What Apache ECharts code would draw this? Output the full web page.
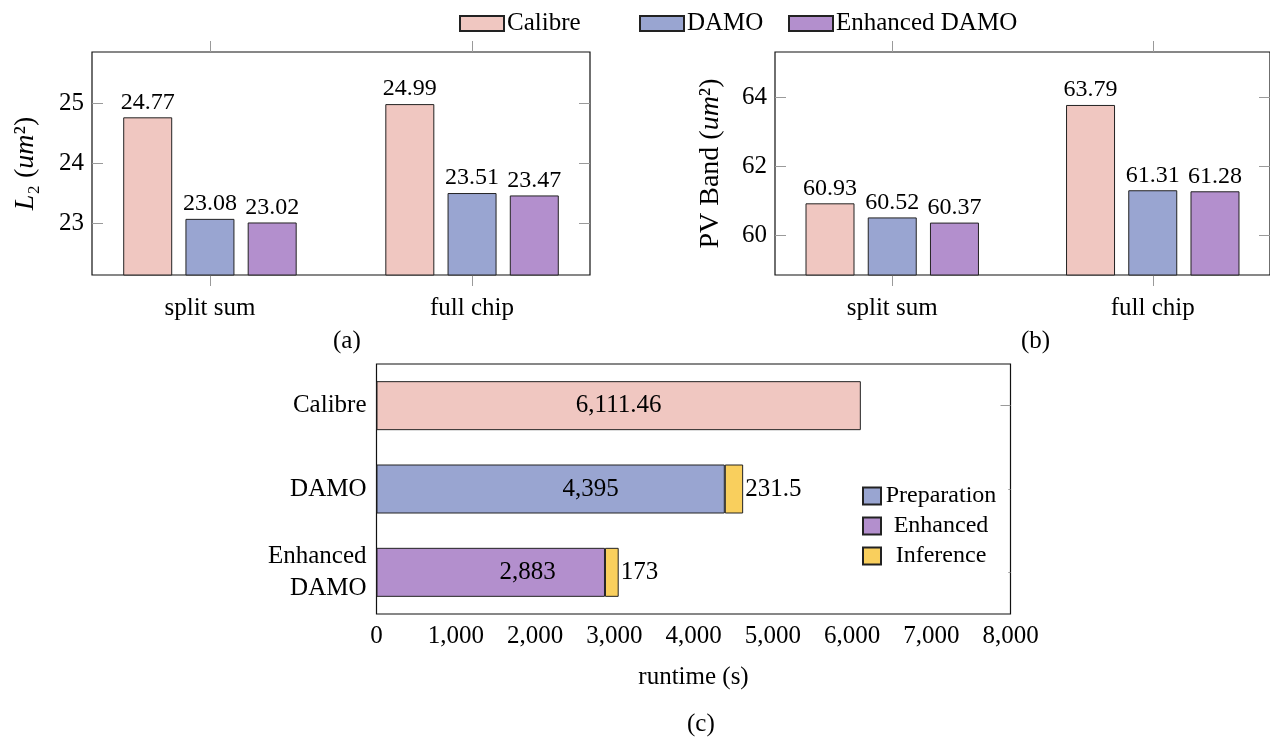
<!DOCTYPE html>
<html>
<head>
<meta charset="utf-8">
<script src="https://cdn.jsdelivr.net/npm/echarts@6/dist/echarts.min.js"></script>
<style>
  html, body { margin: 0; padding: 0; background: #fff; }
  #main { width: 1270px; height: 741px; }
</style>
</head>
<body>
<div id="main"></div>
<script>
// data
var groups = ['split sum', 'full chip'];
var l2Calibre = [24.77, 24.99];
var l2Damo = [23.08, 23.51];
var l2Enhanced = [23.02, 23.47];
var pvCalibre = [60.93, 63.79];
var pvDamo = [60.52, 61.31];
var pvEnhanced = [60.37, 61.28];
var l2Ticks = [23, 24, 25];
var pvTicks = [60, 62, 64];
var groupTicks = [0, 1];

var runtimeCats = ['Calibre', 'DAMO', 'Enhanced\nDAMO'];
var calibreRuntime = [6111.46, null, null];
var preparation = [null, 4395, null];
var enhancedRuntime = [null, null, 2883];
var inference = [null, 231.5, 173];

var FONT = 'Liberation Serif';
var FS = 25;
var PINK = '#F0C7C1', BLUE = '#99A5D1', PURPLE = '#B38FCD', YELLOW = '#F9CF5D';
var TICK = '#9a9a9a';

var chartDom = document.getElementById('main');
var myChart = echarts.init(chartDom, null, { renderer: 'canvas', devicePixelRatio: 1 });

function pairs(arr) {
	return arr.map(function (v, i) { return [i, v]; });
}
function fmt(v) {
	return Number(v).toLocaleString('en-US', { maximumFractionDigits: 2 });
}

function groupX(gridIndex, pos) {
	return {
		gridIndex: gridIndex,
		type: 'value',
		position: pos,
		min: -0.45,
		max: 1.45,
		axisLine: { show: false, onZero: false },
		splitLine: { show: false },
		axisTick: { show: true, inside: false, length: 11, customValues: groupTicks, lineStyle: { color: TICK } },
		axisLabel: {
			show: pos === 'bottom',
			customValues: groupTicks,
			formatter: function (v) { return groups[Math.round(v)]; },
			margin: 21,
			fontFamily: FONT, fontSize: FS, color: '#000'
		}
	};
}
function valueY(gridIndex, pos, min, max, ticks, name, nameGap) {
	return {
		gridIndex: gridIndex,
		type: 'value',
		position: pos,
		min: min,
		max: max,
		name: pos === 'left' ? name : '',
		nameLocation: 'middle',
		nameRotate: 90,
		nameGap: nameGap,
		nameTextStyle: {
			fontFamily: FONT, fontSize: 28, color: '#000',
			rich: { i: { fontFamily: FONT, fontSize: 28, fontStyle: 'italic', color: '#000' } }
		},
		axisLine: { show: false, onZero: false },
		splitLine: { show: false },
		axisTick: { show: true, inside: true, length: 11, customValues: ticks, lineStyle: { color: TICK } },
		axisLabel: {
			show: pos === 'left',
			customValues: ticks,
			margin: 8,
			fontFamily: FONT, fontSize: FS, color: '#000'
		}
	};
}
function barSeries(name, color, data, xi, yi) {
	return {
		name: name,
		type: 'bar',
		xAxisIndex: xi,
		yAxisIndex: yi,
		data: pairs(data),
		barWidth: 49,
		barGap: '27%',
		itemStyle: { color: color, borderColor: '#222', borderWidth: 1 },
		label: {
			show: true,
			position: 'top',
			distance: 3,
			fontFamily: FONT, fontSize: 24, color: '#000',
			formatter: function (p) { return p.value[1].toFixed(2); }
		}
	};
}
function topLegend(name, left) {
	return {
		data: [name], left: left, top: 6, icon: 'rect',
		itemWidth: 44, itemHeight: 15, itemGap: 0,
		textStyle: { fontFamily: FONT, fontSize: FS, color: '#000', padding: [0, 0, 0, -2] }
	};
}

var option = {
	backgroundColor: '#fff',
	animation: false,
	textStyle: { fontFamily: FONT, color: '#000' },
	legend: [
		topLegend('Calibre', 454),
		topLegend('DAMO', 634),
		topLegend('Enhanced DAMO', 783),
		{
			data: ['Preparation', 'Enhanced', 'Inference'],
			orient: 'vertical',
			icon: 'rect',
			left: 854,
			top: 479,
			padding: [5, 12, 12, 8],
			backgroundColor: '#fff',
			itemWidth: 18,
			itemHeight: 17,
			itemGap: 6,
			formatter: function (n) { return '{c|' + n + '}'; },
			textStyle: {
				fontFamily: FONT, fontSize: FS, color: '#000',
				rich: { c: { width: 110, align: 'center', lineHeight: 26, fontFamily: FONT, fontSize: 24 } }
			}
		}
	],
	grid: [
		{ left: 92, top: 52, width: 498, height: 223, show: true, borderColor: '#111', borderWidth: 1.2, backgroundColor: 'transparent' },
		{ left: 775, top: 52, width: 498, height: 223, show: true, borderColor: '#111', borderWidth: 1.2, backgroundColor: 'transparent' },
		{ left: 376.5, top: 364, width: 634, height: 250, show: true, borderColor: '#111', borderWidth: 1.2, backgroundColor: 'transparent' }
	],
	xAxis: [
		groupX(0, 'bottom'),
		groupX(0, 'top'),
		groupX(1, 'bottom'),
		groupX(1, 'top'),
		{
			gridIndex: 2, type: 'value', position: 'bottom', min: 0, max: 8000, interval: 1000,
			name: 'runtime (s)', nameLocation: 'middle', nameGap: 51,
			nameTextStyle: { fontFamily: FONT, fontSize: FS, color: '#000' },
			axisLine: { show: false, onZero: false }, splitLine: { show: false },
			axisTick: { inside: true, length: 10, lineStyle: { color: TICK } },
			axisLabel: { margin: 10, fontFamily: FONT, fontSize: FS, color: '#000', formatter: function (v) { return fmt(v); } }
		},
		{
			gridIndex: 2, type: 'value', position: 'top', min: 0, max: 8000, interval: 1000,
			axisLine: { show: false, onZero: false }, splitLine: { show: false },
			axisTick: { inside: true, length: 10, lineStyle: { color: TICK } },
			axisLabel: { show: false }
		}
	],
	yAxis: [
		valueY(0, 'left', 22.146, 25.857, l2Ticks, '{i|L}₂ ({i|um}²)', 52),
		valueY(0, 'right', 22.146, 25.857, l2Ticks, '', 0),
		valueY(1, 'left', 58.846, 65.33, pvTicks, 'PV Band ({i|um}²)', 50),
		valueY(1, 'right', 58.846, 65.33, pvTicks, '', 0),
		{
			gridIndex: 2, type: 'category', data: runtimeCats, inverse: true, position: 'left',
			axisLine: { show: false, onZero: false }, splitLine: { show: false },
			axisTick: { show: false },
			axisLabel: { margin: 10, fontFamily: FONT, fontSize: FS, color: '#000', lineHeight: 32, align: 'right' }
		},
		{
			gridIndex: 2, type: 'category', data: runtimeCats, inverse: true, position: 'right',
			axisLine: { show: false, onZero: false }, splitLine: { show: false },
			axisTick: { show: true, inside: true, alignWithLabel: true, length: 10, lineStyle: { color: TICK } },
			axisLabel: { show: false }
		}
	],
	series: [
		barSeries('Calibre', PINK, l2Calibre, 0, 0),
		barSeries('DAMO', BLUE, l2Damo, 0, 0),
		barSeries('Enhanced DAMO', PURPLE, l2Enhanced, 0, 0),
		barSeries('Calibre', PINK, pvCalibre, 2, 2),
		barSeries('DAMO', BLUE, pvDamo, 2, 2),
		barSeries('Enhanced DAMO', PURPLE, pvEnhanced, 2, 2),
		{
			name: 'Calibre', type: 'bar', stack: 'rt', xAxisIndex: 4, yAxisIndex: 4,
			data: calibreRuntime, barWidth: 49,
			itemStyle: { color: PINK, borderColor: '#222', borderWidth: 1 },
			label: { show: true, position: 'inside', fontFamily: FONT, fontSize: FS, color: '#000', formatter: function (p) { return fmt(p.value); } }
		},
		{
			name: 'Preparation', type: 'bar', stack: 'rt', xAxisIndex: 4, yAxisIndex: 4,
			data: preparation, barWidth: 49,
			itemStyle: { color: BLUE, borderColor: '#222', borderWidth: 1 },
			label: { show: true, position: 'inside', offset: [40, 0], fontFamily: FONT, fontSize: FS, color: '#000', formatter: function (p) { return fmt(p.value); } }
		},
		{
			name: 'Enhanced', type: 'bar', stack: 'rt', xAxisIndex: 4, yAxisIndex: 4,
			data: enhancedRuntime, barWidth: 49,
			itemStyle: { color: PURPLE, borderColor: '#222', borderWidth: 1 },
			label: { show: true, position: 'inside', offset: [37, 0], fontFamily: FONT, fontSize: FS, color: '#000', formatter: function (p) { return fmt(p.value); } }
		},
		{
			name: 'Inference', type: 'bar', stack: 'rt', xAxisIndex: 4, yAxisIndex: 4,
			data: inference, barWidth: 49,
			itemStyle: { color: YELLOW, borderColor: '#222', borderWidth: 1 },
			label: { show: true, position: 'right', distance: 2, fontFamily: FONT, fontSize: FS, color: '#000', formatter: function (p) { return fmt(p.value); } }
		}
	],
	graphic: [
		{ type: 'text', left: 333, top: 329, style: { text: '(a)', font: '25px "Liberation Serif"', fill: '#000' } },
		{ type: 'text', left: 1021, top: 329, style: { text: '(b)', font: '25px "Liberation Serif"', fill: '#000' } },
		{ type: 'text', left: 687, top: 712, style: { text: '(c)', font: '25px "Liberation Serif"', fill: '#000' } }
	]
};

option && myChart.setOption(option);
</script>
</body>
</html>
